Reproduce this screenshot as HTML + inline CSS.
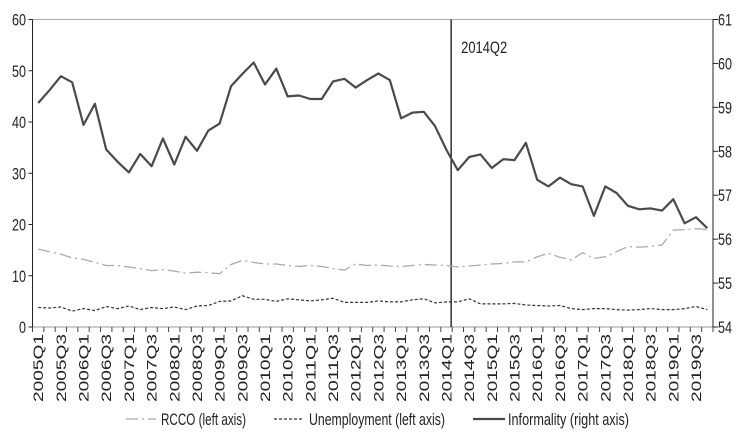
<!DOCTYPE html>
<html><head><meta charset="utf-8"><style>
body{margin:0;background:#fff}
svg text{font-family:"Liberation Sans Narrow","Liberation Sans",sans-serif;fill:#222}
</style></head><body>
<svg id="chart" width="750" height="438" viewBox="0 0 750 438" xmlns="http://www.w3.org/2000/svg"></svg>
<script>
const startYear = 2005;
const nQuarters = 60;
const leftTicks = [0,10,20,30,40,50,60];
const rightTicks = [54,55,56,57,58,59,60,61];
const informality = [59.10,59.39,59.71,59.57,58.60,59.08,58.04,57.76,57.52,57.94,57.66,58.29,57.70,58.33,58.01,58.47,58.63,59.48,59.76,60.02,59.52,59.88,59.25,59.27,59.19,59.19,59.59,59.65,59.45,59.62,59.77,59.62,58.75,58.88,58.90,58.57,58.03,57.57,57.87,57.93,57.62,57.82,57.80,58.19,57.35,57.20,57.40,57.25,57.20,56.53,57.20,57.05,56.76,56.68,56.70,56.65,56.91,56.36,56.50,56.25];
const rcco = [15.2,14.7,14.2,13.5,13.2,12.6,12.0,12.0,11.7,11.4,11.0,11.2,10.9,10.5,10.7,10.6,10.4,12.2,13.0,12.6,12.3,12.3,12.0,11.8,12.0,11.8,11.4,11.1,12.3,12.0,12.1,11.9,11.8,12.0,12.2,12.1,12.0,11.7,11.9,12.1,12.3,12.4,12.7,12.7,13.7,14.4,13.6,13.1,14.5,13.4,13.7,14.7,15.7,15.6,15.7,16.0,18.9,19.0,19.2,19.0];
const unemployment = [3.8,3.7,3.9,3.1,3.6,3.2,4.0,3.6,4.1,3.4,3.8,3.6,3.9,3.4,4.1,4.2,5.0,5.1,6.1,5.4,5.4,5.0,5.5,5.3,5.1,5.3,5.6,4.8,4.8,4.8,5.1,4.9,4.9,5.3,5.5,4.7,4.9,4.9,5.5,4.5,4.5,4.5,4.6,4.3,4.2,4.1,4.2,3.6,3.4,3.6,3.6,3.4,3.3,3.4,3.6,3.4,3.4,3.6,4.0,3.4];
const markerQuarter = 37; // 2014Q2
const markerLabel = "2014Q2";

const NS="http://www.w3.org/2000/svg";
const svg=document.getElementById('chart');
const X0=32.5,X1=713,Y0=327,Y1=19.5;
const step=(X1-X0)/nQuarters;
const xs=i=>X0+step*(i+0.5);
const yL=v=>Y0-(v-0)/(60-0)*(Y0-Y1);
const yR=v=>Y0-(v-54)/(61-54)*(Y0-Y1);
function mk(tag,attrs,parent){const e=document.createElementNS(NS,tag);for(const k in attrs)e.setAttribute(k,attrs[k]);(parent||svg).appendChild(e);return e;}

let e;
e=mk('line',{x1:X0,y1:Y1,x2:X1,y2:Y1,stroke:'#aaa','stroke-width':1});


e=mk('line',{x1:X0,y1:Y0,x2:X1,y2:Y0,stroke:'#999','stroke-width':1});


e=mk('line',{x1:X0,y1:Y1,x2:X0,y2:Y0,stroke:'#222','stroke-width':1});


e=mk('line',{x1:X1,y1:Y1,x2:X1,y2:Y0,stroke:'#222','stroke-width':1});



leftTicks.forEach(v=>{
  mk('line',{x1:X0-4,x2:X0,y1:yL(v),y2:yL(v),stroke:'#222'});
  const s=String(v);
  const t=mk('text',{x:26,y:yL(v)+6,'text-anchor':'end','font-size':17,textLength:s.length*7,lengthAdjust:'spacingAndGlyphs'});
  t.textContent=s;
  
  
});
rightTicks.forEach(v=>{
  mk('line',{x1:X1,x2:X1+5,y1:yR(v),y2:yR(v),stroke:'#222'});
  const t=mk('text',{x:718,y:yR(v)+6,'text-anchor':'start','font-size':17,textLength:14,lengthAdjust:'spacingAndGlyphs'});
  t.textContent=v;
  
  
});
for(let i=0;i<=nQuarters;i++){
  mk('line',{x1:X0+step*i,x2:X0+step*i,y1:Y0,y2:Y0+5,stroke:'#444'});
}
for(let i=0;i<nQuarters;i+=2){
  const yr=startYear+Math.floor(i/4), q=i%4+1;
  const x=xs(i)+5;
  const t=mk('text',{x:x,y:334,'font-size':14,'text-anchor':'end',textLength:68,lengthAdjust:'spacingAndGlyphs'});
  t.setAttribute('transform',`rotate(-90 ${x} 334)`);
  t.textContent=yr+'Q'+q;
  
  
}

const mx=X0+step*markerQuarter-1;
e=mk('line',{x1:mx,x2:mx,y1:Y1,y2:Y0,stroke:'#111','stroke-width':1.3});


e=mk('text',{x:mx+10,y:53,'font-size':17,textLength:46,lengthAdjust:'spacingAndGlyphs'});
e.textContent=markerLabel;



function path(arr,f){return arr.map((v,i)=>(i?'L':'M')+xs(i).toFixed(1)+' '+f(v).toFixed(1)).join(' ');}
e=mk('path',{d:path(rcco,yL),fill:'none',stroke:'#aaa','stroke-width':1.3,'stroke-dasharray':'12 4 2 4'});


e=mk('path',{d:path(unemployment,yL),fill:'none',stroke:'#333','stroke-width':1.2,'stroke-dasharray':'3 2'});


e=mk('path',{d:path(informality,yR),fill:'none',stroke:'#4a4a4a','stroke-width':2.2,'stroke-linejoin':'round'});



// legend
const lg=mk('g',{});


const LY=419;
mk('line',{x1:126,x2:156,y1:LY,y2:LY,stroke:'#aaa','stroke-width':1.3,'stroke-dasharray':'12 4 2 4'},lg);
e=mk('text',{x:161,y:LY+6,'font-size':17,textLength:85,lengthAdjust:'spacingAndGlyphs'},lg);e.textContent='RCCO (left axis)';


mk('line',{x1:274,x2:304,y1:LY,y2:LY,stroke:'#333','stroke-width':1.2,'stroke-dasharray':'3 2'},lg);
e=mk('text',{x:309,y:LY+6,'font-size':17,textLength:136,lengthAdjust:'spacingAndGlyphs'},lg);e.textContent='Unemployment (left axis)';


mk('line',{x1:473,x2:505,y1:LY,y2:LY,stroke:'#4a4a4a','stroke-width':2.2},lg);
e=mk('text',{x:508,y:LY+6,'font-size':17,textLength:121,lengthAdjust:'spacingAndGlyphs'},lg);e.textContent='Informality (right axis)';


</script>
</body></html>
